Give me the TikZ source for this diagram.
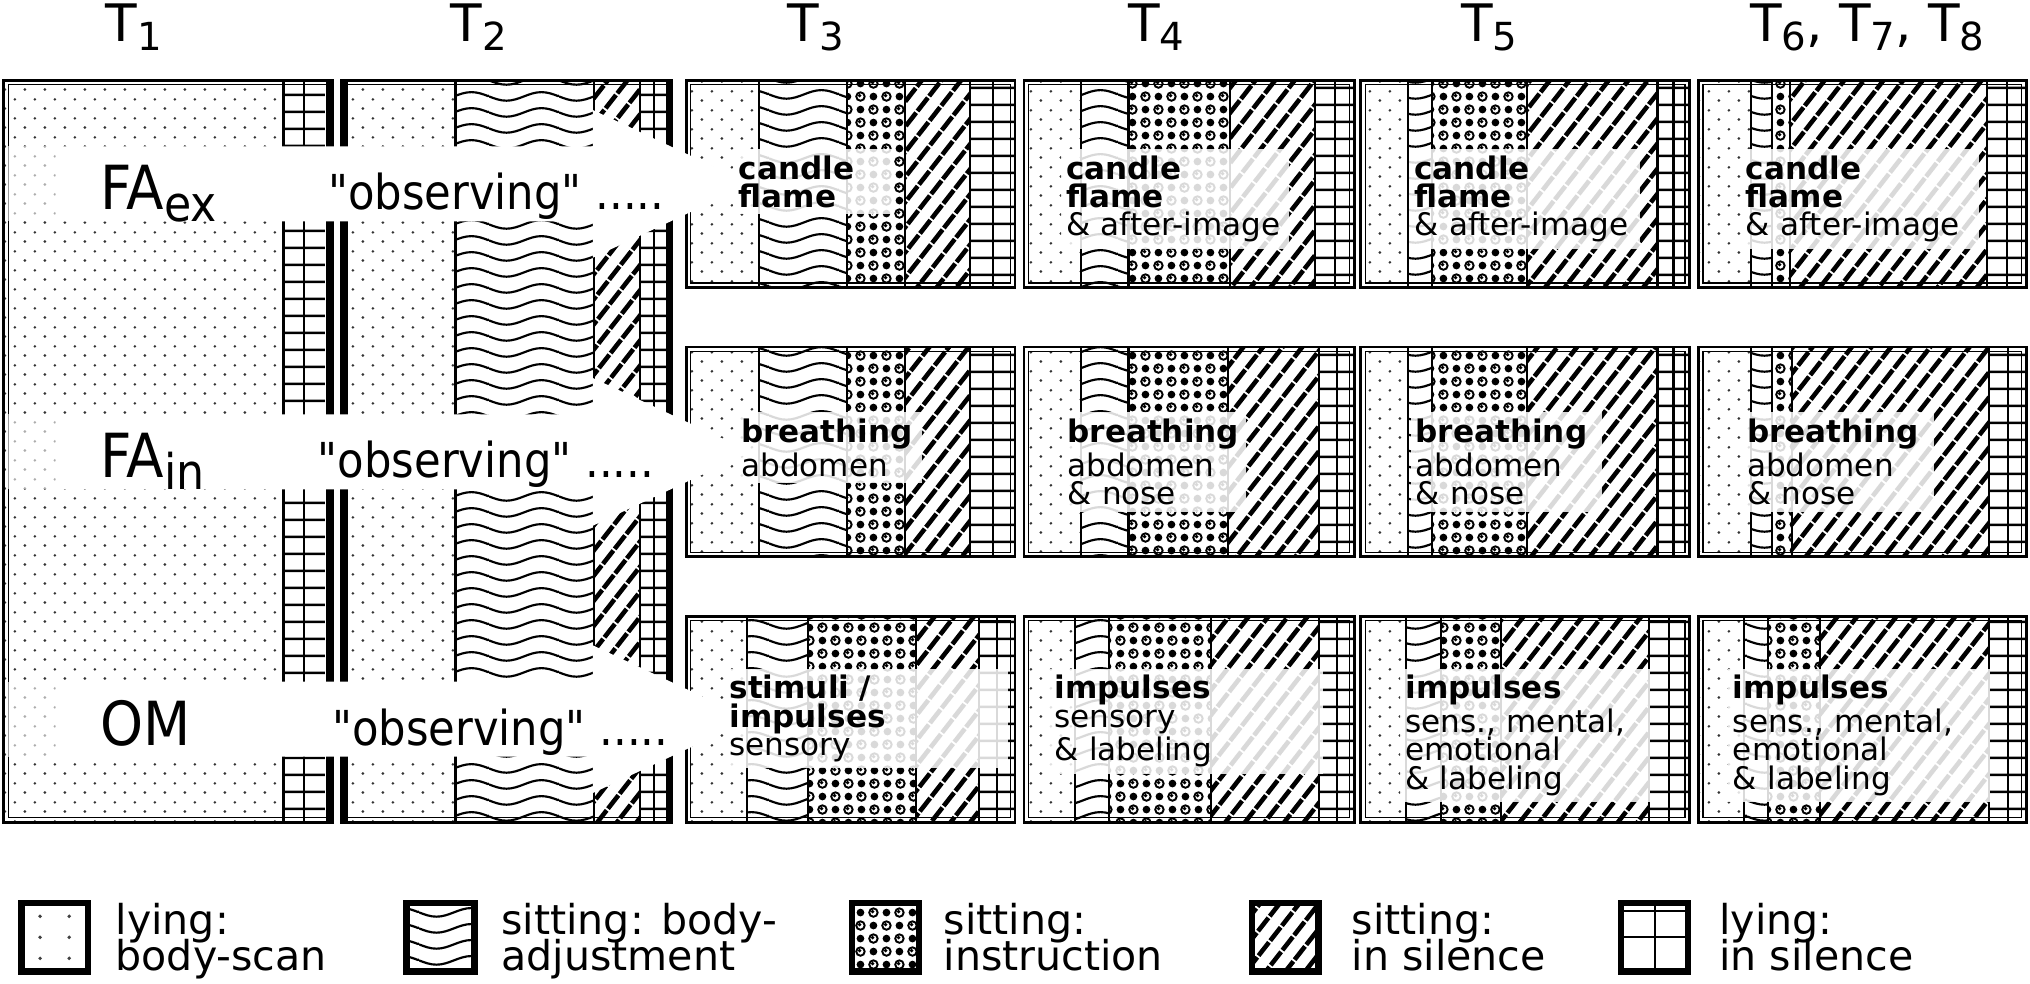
\documentclass[tikz,border=0pt]{standalone}
\usepackage{fontspec}
\setmainfont{DejaVu Sans}
\newfontfamily\narrowfont{DejaVu Sans}[FakeStretch=0.9]
\usetikzlibrary{positioning,patterns.meta}
\hyphenpenalty=10000
\exhyphenpenalty=10000
\lineskiplimit=-\maxdimen

% fill patterns (one drawing pixel = 0.3683pt)
\tikzdeclarepattern{
  name=bodyscan, type=colored,
  bottom left={(0pt,0pt)}, top right={(5.67pt,5.3pt)},
  tile size={(5.67pt,5.3pt)},
  code={\fill[black!80] (1.4pt,1.3pt) circle (0.42pt) (4.24pt,3.95pt) circle (0.42pt);}
}
\tikzdeclarepattern{
  name=adjust, type=colored,
  bottom left={(0pt,0pt)}, top right={(19.89pt,4.57pt)},
  tile size={(19.89pt,4.57pt)},
  code={\draw[line width=0.65pt] (0pt,2.285pt) sin (4.97pt,0.995pt) cos (9.94pt,2.285pt)
          sin (14.92pt,3.575pt) cos (19.89pt,2.285pt);}
}
\tikzdeclarepattern{
  name=instruct, type=colored,
  bottom left={(0pt,0pt)}, top right={(7.37pt,7.37pt)},
  tile size={(7.37pt,7.37pt)},
  code={\draw[line width=0.55pt] (1.84pt,1.84pt) circle (1.2pt) (5.53pt,5.53pt) circle (1.2pt);
        \fill (5.53pt,1.84pt) circle (1.1pt) (1.84pt,5.53pt) circle (1.1pt)
          (1.6pt,2.1pt) circle (0.55pt) (5.29pt,5.79pt) circle (0.55pt);}
}
\tikzdeclarepattern{
  name=silence, type=colored,
  bottom left={(0pt,-2.263pt)}, top right={(5.4pt,2.263pt)},
  tile size={(5.4pt,4.4pt)},
  tile transformation={rotate=52},
  code={\draw[line width=1.3pt] (0pt,0pt) -- (4.8pt,0pt);}
}
\tikzdeclarepattern{
  name=rest, type=colored,
  bottom left={(0pt,0pt)}, top right={(4.75pt,4.75pt)},
  tile size={(4.75pt,4.75pt)},
  code={\draw[line width=0.7pt] (0pt,2.37pt) -- (4.75pt,2.37pt);}
}

\tikzset{
  gridline/.style={line width=0.6pt},
  colsep/.style={line width=0.6pt},
  outer frame/.style={line width=0.8pt},
  inner frame/.style={line width=0.35pt},
  heavy/.style={line width=1.9pt},
  key frame/.style={line width=1.85pt}
}

\newcommand\lowidx[3]{\raisebox{-#1}{\fontsize{#2}{#2}\selectfont #3}}

% one session box: top, bottom, then the six column borders
\newcommand\fullslot[8]{%
  \fill[pattern=bodyscan] (#3,#1) rectangle (#4,#2);
  \fill[pattern=adjust] (#4,#1) rectangle (#5,#2);
  \fill[pattern=instruct] (#5,#1) rectangle (#6,#2);
  \fill[pattern=silence] (#6,#1) rectangle (#7,#2);
  \fill[pattern=rest] (#7,#1) rectangle (#8,#2);
  \draw[gridline] ({(#7+#8)/2},#1) -- ({(#7+#8)/2},#2);
  \foreach \xs in {#4,#5,#6,#7} \draw[colsep] (\xs,#1) -- (\xs,#2);
  \draw[outer frame] (#3,#1) rectangle (#8,#2);
  \draw[inner frame] (#3+3.5,#1+3.5) rectangle (#8-3.5,#2-3.5);}

\begin{document}
\begin{tikzpicture}[x=0.12946mm, y=-0.12946mm,
  head/.style={anchor=base west, inner sep=0pt, font=\fontsize{14.7}{14.7}\selectfont},
  lead/.style={anchor=base west, inner sep=0pt, font=\narrowfont\fontsize{17.3}{17.3}\selectfont},
  obs/.style={anchor=base west, inner sep=0pt, font=\narrowfont\fontsize{13.7}{13.7}\selectfont},
  note/.style={anchor=north west, fill=white, fill opacity=0.85, text opacity=1,
    inner xsep=1.47pt, inner ysep=1.84pt, align=left, font=\fontsize{8.84}{8.07}\selectfont},
  key/.style={anchor=north west, inner sep=0pt, align=left,
    font=\fontsize{11.7}{10.1}\selectfont}]
\useasboundingbox (0,0) rectangle (1568,760);

% headers
\node[head] (t1) at (81,32.2) {T\lowidx{2.4pt}{11}{1}};
\node[head] (t2) at (347.5,32.2) {T\lowidx{2.4pt}{11}{2}};
\node[head] (t3) at (608,32.2) {T\lowidx{2.4pt}{11}{3}};
\node[head] (t4) at (871,32.2) {T\lowidx{2.4pt}{11}{4}};
\node[head] (t5) at (1128,32.2) {T\lowidx{2.4pt}{11}{5}};
\node[head] (t678) at (1351.4,32.2) {T\lowidx{2.4pt}{11}{6}, T\lowidx{2.4pt}{11}{7}, T\lowidx{2.4pt}{11}{8}};

% T1
\fill[pattern=bodyscan] (3,62) rectangle (219,635);
\fill[pattern=rest] (219,62) rectangle (251,635);
\draw[gridline] (235,62) -- (235,635);
\draw[colsep] (219,62) -- (219,635);
\draw[outer frame] (3,62) rectangle (257,635);
\draw[inner frame] (6.5,65.5) rectangle (253.5,631.5);
\draw[heavy] (254,62) -- (254,635);

% T2
\fill[pattern=bodyscan] (264,62) rectangle (352,635);
\fill[pattern=adjust] (352,62) rectangle (459,635);
\fill[pattern=silence] (459,62) rectangle (494,635);
\fill[pattern=rest] (494,62) rectangle (516,635);
\draw[gridline] (505,62) -- (505,635);
\foreach \xs in {459,494} \draw[colsep] (\xs,62) -- (\xs,635);
\draw[line width=1pt] (352,62) -- (352,635);
\draw[outer frame] (264,62) rectangle (519,635);
\draw[inner frame] (267.5,65.5) rectangle (515.5,631.5);
\draw[heavy] (266,62) -- (266,635);
\draw[heavy] (517,62) -- (517,635);

% T3 .. T8
\foreach \rowtop/\rowbot/\cA/\cB/\cC/\cD/\cE/\cF in {
  62/222/530/586.4/654/699.2/749.5/784,
  268/430/530/586.4/654/699.2/749.5/784,
  476/635/530/577/624/707.6/756/784,
  62/222/791/835/871.7/950.4/1015.7/1046,
  268/430/791/835/871.7/948.7/1019/1046,
  476/635/791/830/856.6/935.4/1019/1046,
  62/222/1051/1087.7/1106.1/1179.8/1280.3/1305,
  268/430/1051/1087.7/1106.1/1179.8/1280.3/1305,
  476/635/1051/1086/1112.8/1159.7/1273.6/1305,
  62/222/1312/1352.3/1369/1382.4/1534.8/1565,
  268/430/1312/1352.3/1369/1384/1536.5/1565,
  476/635/1312/1347.3/1365.7/1405.9/1536.5/1565}
  {\fullslot{\rowtop}{\rowbot}{\cA}{\cB}{\cC}{\cD}{\cE}{\cF}}

% white arrows
\foreach \rowmid in {142,349,555.5} {
  \fill[white, opacity=0.6] (5,\rowmid-29) rectangle (43,\rowmid+29);
  \fill[white] (43,\rowmid-29) -- (458,\rowmid-29) -- (458,\rowmid-57) -- (580,\rowmid)
    -- (458,\rowmid+57) -- (458,\rowmid+29) -- (43,\rowmid+29) -- cycle;
}

% row labels
\node[lead] (faex) at (77,162) {FA\lowidx{3.3pt}{14}{ex}};
\node[lead] (fain) at (77,369) {FA\lowidx{3.3pt}{14}{in}};
\node[lead] (om) at (77,575.5) {OM};
\node[obs] (obsex) at (253,162) {"observing" .....};
\node[obs] (obsin) at (245,369) {"observing" .....};
\node[obs] (obsom) at (256,575.5) {"observing" .....};

% notes
\node[note, text width=42.4pt] (note31) at (566,114.5) {\textbf{candle}\\\textbf{flame}};
\node[note, text width=61.9pt] (note41) at (819,114.5) {\textbf{candle}\\\textbf{flame}\\\& after-image};
\node[note, text width=62.6pt] (note51) at (1088,114.5) {\textbf{candle}\\\textbf{flame}\\\& after-image};
\node[note, text width=64.8pt] (note61) at (1344,114.5) {\textbf{candle}\\\textbf{flame}\\\& after-image};
\node[note, text width=50.1pt] (note32) at (568,318) {\textbf{breathing}\\abdomen};
\node[note, text width=49.4pt] (note42) at (820,318) {\textbf{breathing}\\abdomen\\\& nose};
\node[note, text width=51.6pt] (note52) at (1089,318) {\textbf{breathing}\\abdomen\\\& nose};
\node[note, text width=51.6pt] (note62) at (1345,318) {\textbf{breathing}\\abdomen\\\& nose};
\node[note, text width=77.7pt] (note33) at (559,516) {\textbf{stimuli /}\\\textbf{impulses}\\sensory};
\node[note, text width=74.8pt] (note43) at (810,516) {\textbf{impulses}\\sensory\\\& labeling};
\node[note, text width=68.1pt] (note53) at (1081,516) {\textbf{impulses}\\sens., mental,\\emotional\\\& labeling};
\node[note, text width=71.8pt] (note63) at (1334,516) {\textbf{impulses}\\sens., mental,\\emotional\\\& labeling};

% legend
\foreach \kx in {0.3,0.7}
  \foreach \ky in {0.22,0.5,0.78}
    \fill[black!75] (14.1+56.2*\kx,695+58*\ky) circle (0.55pt);
\draw[key frame] (16.6,697.5) rectangle (67.8,750.5);
\fill[pattern=adjust] (313.9,697.5) rectangle (366.7,750.5);
\draw[key frame] (313.9,697.5) rectangle (366.7,750.5);
\fill[pattern=instruct] (658,697.5) rectangle (709.7,750.5);
\draw[key frame] (658,697.5) rectangle (709.7,750.5);
\fill[pattern=silence] (967.2,697.5) rectangle (1018.5,750.5);
\draw[key frame] (967.2,697.5) rectangle (1018.5,750.5);
\draw[gridline] (1278,700) -- (1278,748);
\draw[gridline] (1252,724) -- (1304,724);
\draw[gridline] (1252,703.5) -- (1304,703.5);
\draw[key frame] (1252,697.5) rectangle (1303.8,750.5);

\node[key] (keyscan) at (88.8,697.4) {lying:\\body-scan};
\node[key] (keyadjust) at (386.7,697.4) {sitting: body-\\adjustment};
\node[key] (keyinstr) at (728.3,697.4) {sitting:\\instruction};
\node[key] (keysit) at (1043.6,697.4) {sitting:\\in silence};
\node[key] (keylie) at (1327.4,697.4) {lying:\\in silence};
\end{tikzpicture}
\end{document}
